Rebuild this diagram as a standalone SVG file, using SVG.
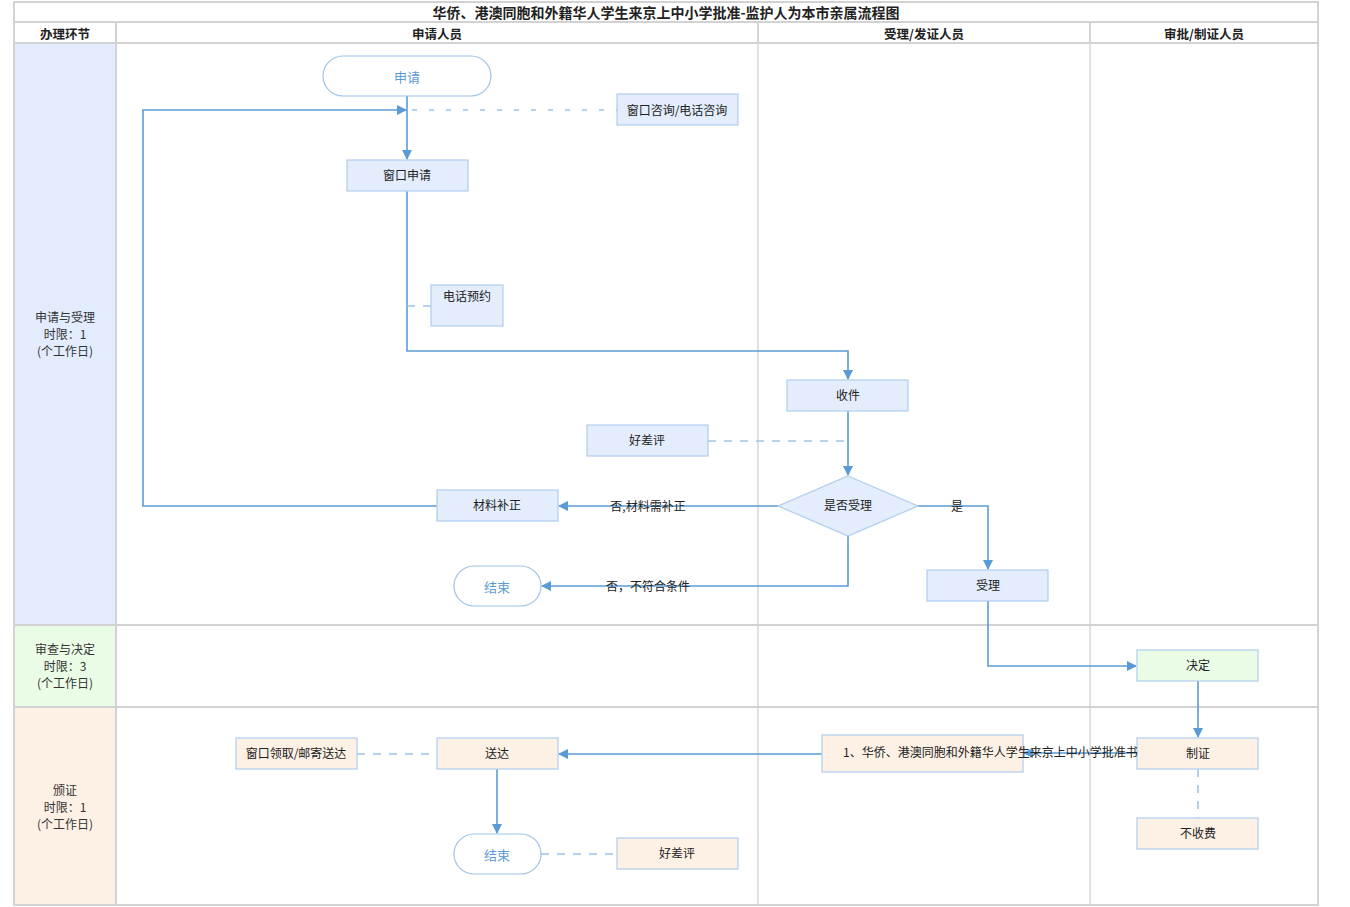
<svg xmlns="http://www.w3.org/2000/svg" width="1350" height="907" viewBox="0 0 1350 907">
<style>
text{font-family:"Noto Sans CJK SC","Liberation Sans",sans-serif;font-size:12px;fill:#222;text-anchor:middle;dominant-baseline:central}
.hd{font-weight:bold;font-size:12.5px}
.ttl{font-weight:bold;font-size:14px}
.grid{stroke:#d2d2d2;stroke-width:2;fill:none}
.vline{stroke:#e2e2e2;stroke-width:2;fill:none}
.blue{fill:#e3edfc;stroke:#aecdee;stroke-width:1.2}
.green{fill:#eafce6;stroke:#aecdee;stroke-width:1.2}
.peach{fill:#fdf1e6;stroke:#aecdee;stroke-width:1.2}
.term{fill:#fff;stroke:#9cc3ea;stroke-width:1.2}
.tt{fill:#5b9bd5;font-size:13px}
.lane{fill:#333}
.c{stroke:#5b9bd5;stroke-width:1.6;fill:none}
.d{stroke:#9cc3ea;stroke-width:1.6;fill:none;stroke-dasharray:8,8}
.d2{stroke:#9cc3ea;stroke-width:1.6;fill:none;stroke-dasharray:5,12}
</style>
<defs>
<marker id="ah" markerWidth="10" markerHeight="10" refX="9" refY="5" orient="auto" markerUnits="userSpaceOnUse">
<path d="M0,0 L10,5 L0,10 Z" fill="#5b9bd5"/>
</marker>
</defs>
<rect width="1350" height="907" fill="#fff"/>
<g id="lanes">
<rect x="15" y="44" width="101" height="581" fill="#e2ecfd"/>
<rect x="15" y="625" width="101" height="82" fill="#eafce6"/>
<rect x="15" y="707" width="101" height="198" fill="#fdf1e6"/>
<line class="vline" x1="758" y1="43" x2="758" y2="905"/>
<line class="vline" x1="1090" y1="43" x2="1090" y2="905"/>
<rect class="grid" x="14" y="2" width="1304" height="903"/>
<line class="grid" x1="14" y1="22" x2="1318" y2="22"/>
<line class="grid" x1="14" y1="43" x2="1318" y2="43"/>
<line class="grid" x1="116" y1="22" x2="116" y2="905"/>
<line class="grid" x1="758" y1="22" x2="758" y2="43"/>
<line class="grid" x1="1090" y1="22" x2="1090" y2="43"/>
<line class="grid" x1="14" y1="625" x2="1318" y2="625"/>
<line class="grid" x1="14" y1="707" x2="1318" y2="707"/>
<text class="ttl" x="666" y="12">华侨、港澳同胞和外籍华人学生来京上中小学批准-监护人为本市亲属流程图</text>
<text class="hd" x="65" y="33">办理环节</text>
<text class="hd" x="437" y="33">申请人员</text>
<text class="hd" x="924" y="33">受理/发证人员</text>
<text class="hd" x="1204" y="33">审批/制证人员</text>
<text class="lane" x="65" y="316">申请与受理</text>
<text class="lane" x="65" y="333">时限：1</text>
<text class="lane" x="65" y="350">(个工作日)</text>
<text class="lane" x="65" y="648">审查与决定</text>
<text class="lane" x="65" y="665">时限：3</text>
<text class="lane" x="65" y="682">(个工作日)</text>
<text class="lane" x="65" y="789">颁证</text>
<text class="lane" x="65" y="806">时限：1</text>
<text class="lane" x="65" y="823">(个工作日)</text>
</g>
<g id="connectors">
<line class="c" x1="407" y1="96" x2="407" y2="159" marker-end="url(#ah)"/>
<polyline class="c" points="437,506 143,506 143,110 406,110" marker-end="url(#ah)"/>
<line class="d2" x1="412" y1="110" x2="617" y2="110"/>
<polyline class="c" points="407,191 407,351 848,351 848,379" marker-end="url(#ah)"/>
<line class="d" x1="407" y1="306" x2="431" y2="306"/>
<line class="c" x1="848" y1="411" x2="848" y2="475" marker-end="url(#ah)"/>
<line class="d" x1="708" y1="441" x2="848" y2="441"/>
<line class="c" x1="778" y1="506" x2="559" y2="506" marker-end="url(#ah)"/>
<polyline class="c" points="848,536 848,586 542,586" marker-end="url(#ah)"/>
<polyline class="c" points="918,506 988,506 988,569" marker-end="url(#ah)"/>
<polyline class="c" points="988,601 988,666 1136,666" marker-end="url(#ah)"/>
<line class="c" x1="1198" y1="681" x2="1198" y2="737" marker-end="url(#ah)"/>
<line class="c" x1="1137" y1="753" x2="1024" y2="753" marker-end="url(#ah)"/>
<line class="c" x1="822" y1="754" x2="559" y2="754" marker-end="url(#ah)"/>
<line class="d" x1="1198" y1="769" x2="1198" y2="818"/>
<line class="d" x1="357" y1="754" x2="437" y2="754"/>
<line class="c" x1="497" y1="769" x2="497" y2="833" marker-end="url(#ah)"/>
<line class="d" x1="541" y1="854" x2="617" y2="854"/>
<text x="648" y="505">否,材料需补正</text>
<text x="648" y="585">否，不符合条件</text>
<text x="957" y="505">是</text>
</g>
<g id="n-apply"><rect class="term" x="323" y="56" width="168" height="40" rx="20"/><text class="tt" x="407" y="76">申请</text></g>
<g id="n-consult"><rect class="blue" x="617" y="94" width="121" height="31"/><text x="677" y="109">窗口咨询/电话咨询</text></g>
<g id="n-window"><rect class="blue" x="347" y="160" width="121" height="31"/><text x="407" y="174">窗口申请</text></g>
<g id="n-phone"><rect class="blue" x="431" y="285" width="72" height="41"/><text x="467" y="295">电话预约</text></g>
<g id="n-receive"><rect class="blue" x="787" y="380" width="121" height="31"/><text x="848" y="394">收件</text></g>
<g id="n-eval1"><rect class="blue" x="587" y="425" width="121" height="31"/><text x="647" y="439">好差评</text></g>
<g id="n-decide"><polygon class="blue" points="848,476 918,506 848,536 778,506"/><text x="848" y="504">是否受理</text></g>
<g id="n-supplement"><rect class="blue" x="437" y="490" width="121" height="31"/><text x="497" y="504">材料补正</text></g>
<g id="n-end1"><rect class="term" x="454" y="566" width="87" height="40" rx="20"/><text class="tt" x="497" y="586">结束</text></g>
<g id="n-accept"><rect class="blue" x="927" y="570" width="121" height="31"/><text x="988" y="584">受理</text></g>
<g id="n-decision"><rect class="green" x="1137" y="650" width="121" height="31"/><text x="1198" y="664">决定</text></g>
<g id="n-make"><rect class="peach" x="1137" y="738" width="121" height="31"/><text x="1198" y="752">制证</text></g>
<g id="n-free"><rect class="peach" x="1137" y="818" width="121" height="31"/><text x="1198" y="832">不收费</text></g>
<g id="n-cert"><rect class="peach" x="822" y="735" width="201" height="37"/><text x="843" y="751" style="text-anchor:start">1、华侨、港澳同胞和外籍华人学生来京上中小学批准书</text></g>
<g id="n-deliver"><rect class="peach" x="437" y="738" width="121" height="31"/><text x="497" y="752">送达</text></g>
<g id="n-pickup"><rect class="peach" x="236" y="738" width="121" height="31"/><text x="296" y="752">窗口领取/邮寄送达</text></g>
<g id="n-end2"><rect class="term" x="454" y="834" width="87" height="40" rx="20"/><text class="tt" x="497" y="854">结束</text></g>
<g id="n-eval2"><rect class="peach" x="617" y="838" width="121" height="31"/><text x="677" y="852">好差评</text></g>
</svg>
